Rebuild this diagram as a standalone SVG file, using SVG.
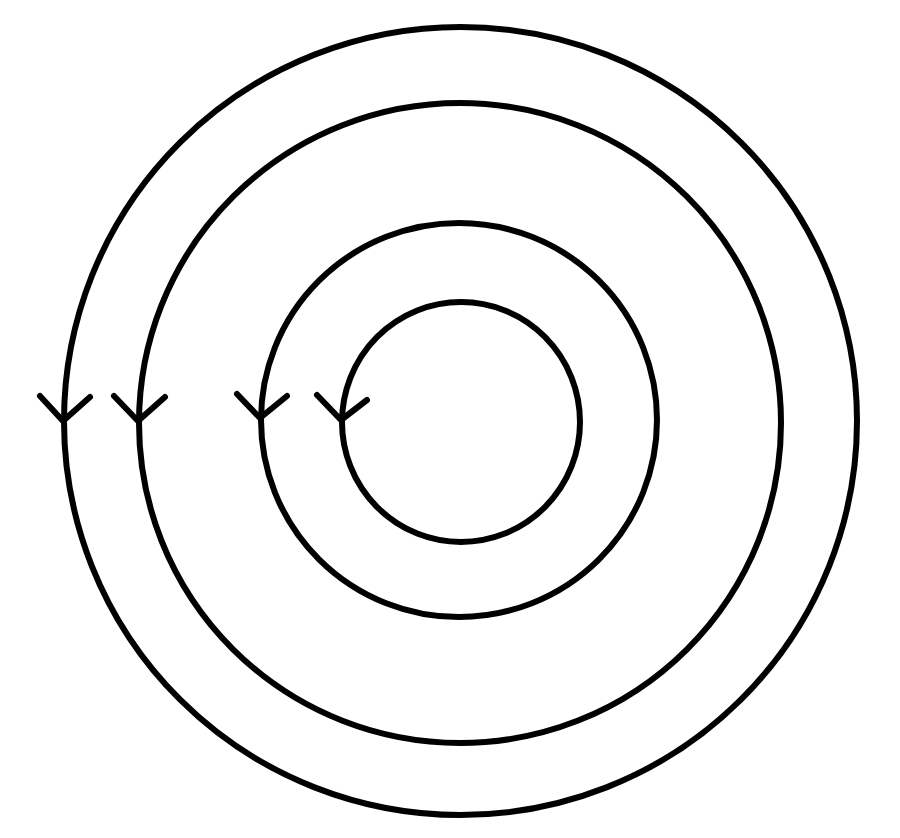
<svg xmlns="http://www.w3.org/2000/svg" width="900" height="838" viewBox="0 0 900 838">
<style>
.ring{fill:none;stroke:#000;stroke-width:6}
.arrow{fill:none;stroke:#000;stroke-width:6;stroke-linecap:round;stroke-linejoin:round}
</style>
<rect width="900" height="838" fill="#fff"/>
<g id="ring1"><ellipse class="ring" cx="460.5" cy="421" rx="396.5" ry="394"/></g>
<g id="ring2"><ellipse class="ring" cx="460" cy="423" rx="321" ry="320"/></g>
<g id="ring3"><ellipse class="ring" cx="459" cy="420" rx="198" ry="197"/></g>
<g id="ring4"><ellipse class="ring" cx="461" cy="422" rx="119" ry="120"/></g>
<g id="connectors">
<path class="arrow" d="M40,396 L63,421 L90,397"/>
<path class="arrow" d="M114,396 L138,421 L165,397"/>
<path class="arrow" d="M237,394 L260,418 L287,396"/>
<path class="arrow" d="M317,395 L341,420 L367,400"/>
</g>
</svg>
